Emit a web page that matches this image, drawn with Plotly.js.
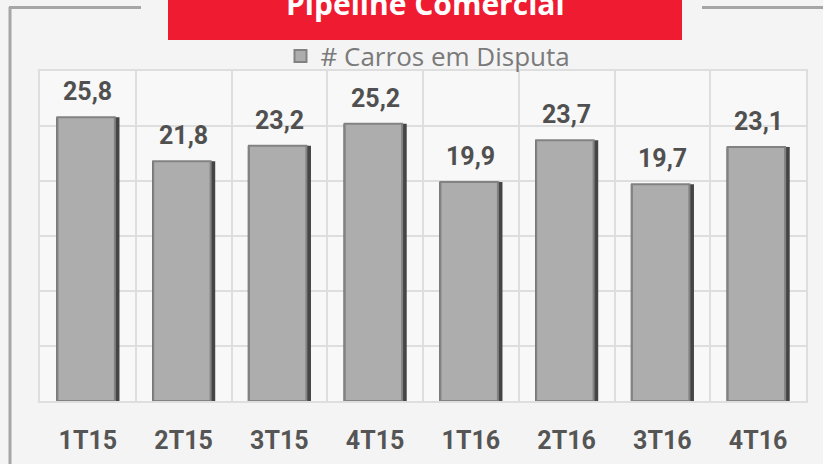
<!DOCTYPE html>
<html>
<head>
<meta charset="utf-8">
<script src="https://cdn.plot.ly/plotly-3.0.1.min.js"></script>
<style>
html,body{margin:0;padding:0;background:#f4f4f4;}
#chart{width:823px;height:464px;}
</style>
</head>
<body>
<div id="chart"></div>
<script>
// ---- data ----
const categories = ['1T15','2T15','3T15','4T15','1T16','2T16','3T16','4T16'];
const carrosEmDisputa = [25.8, 21.8, 23.2, 25.2, 19.9, 23.7, 19.7, 23.1];
const seriesName = '# Carros em Disputa';
const chartTitle = 'Pipeline Comercial';

// ---- geometry helpers (pixel -> paper) ----
const W = 823, H = 464;
const M = {l: 40, r: 17, t: 71, b: 63};
const PW = W - M.l - M.r, PH = H - M.t - M.b;
const px = x => (x - M.l) / PW;
const py = y => (H - M.b - y) / PH;

const fmt = v => v.toFixed(1).replace('.', ',');

const rim = {
  type: 'bar', x: categories, y: carrosEmDisputa,
  width: 0.66, marker: {color: '#454545', line: {width: 0}},
  showlegend: false, hoverinfo: 'skip'
};
const face = {
  type: 'bar', x: categories, y: carrosEmDisputa, name: seriesName,
  width: 0.6, offset: -0.318,
  marker: {color: '#adadad', line: {color: '#828282', width: 2}},
  showlegend: true
};

const labelAnn = categories.map((c, i) => ({
  x: c, y: carrosEmDisputa[i], xref: 'x', yref: 'y',
  text: '<b>' + fmt(carrosEmDisputa[i]) + '</b>',
  showarrow: false, xanchor: 'center', yanchor: 'bottom', yshift: 9,
  font: {family: 'Roboto, sans-serif', size: 25, color: '#505050'}
}));

const lineStyle = {color: '#a6a6a6', width: 3};
const shapes = [
  {type: 'rect', xref: 'paper', yref: 'paper', x0: px(168), x1: px(682), y0: py(0), y1: py(40),
   fillcolor: '#ee1b31', line: {width: 0}, layer: 'above'},
  {type: 'line', xref: 'paper', yref: 'paper', x0: px(10), x1: px(10), y0: py(7), y1: py(466), line: lineStyle},
  {type: 'line', xref: 'paper', yref: 'paper', x0: px(9), x1: px(141), y0: py(7.5), y1: py(7.5), line: lineStyle},
  {type: 'line', xref: 'paper', yref: 'paper', x0: px(702), x1: px(825), y0: py(7.5), y1: py(7.5), line: lineStyle}
];

const titleAnn = {
  xref: 'paper', yref: 'paper', x: px(425), y: py(4), xanchor: 'center', yanchor: 'middle',
  text: '<b>' + chartTitle + '</b>', showarrow: false,
  font: {family: 'Open Sans, sans-serif', size: 30, color: '#ffffff'}
};

const layout = {
  width: W, height: H,
  margin: M,
  paper_bgcolor: '#f4f4f4', plot_bgcolor: '#f8f8f8',
  barmode: 'overlay',
  separators: ',.',
  showlegend: true,
  legend: {
    orientation: 'h', x: px(428), xanchor: 'center', y: py(56), yanchor: 'middle',
    bgcolor: 'rgba(0,0,0,0)',
    font: {family: 'Open Sans, sans-serif', size: 26, color: '#7a7a7a'}
  },
  xaxis: {
    type: 'category', tickson: 'boundaries', showgrid: true,
    gridcolor: '#dedede', gridwidth: 2,
    showline: true, mirror: true, linecolor: '#dedede', linewidth: 2,
    ticks: '', ticklabelstandoff: 16,
    tickfont: {family: 'Roboto, sans-serif', size: 25, color: '#555555', weight: 'bold'},
    fixedrange: true
  },
  yaxis: {
    range: [0, 30], dtick: 5, showticklabels: false,
    gridcolor: '#dedede', gridwidth: 2, zeroline: false,
    showline: true, mirror: true, linecolor: '#dedede', linewidth: 2,
    fixedrange: true
  },
  shapes: shapes,
  annotations: labelAnn.concat([titleAnn])
};

Plotly.newPlot('chart', [rim, face], layout, {staticPlot: true, displayModeBar: false});
</script>
</body>
</html>
